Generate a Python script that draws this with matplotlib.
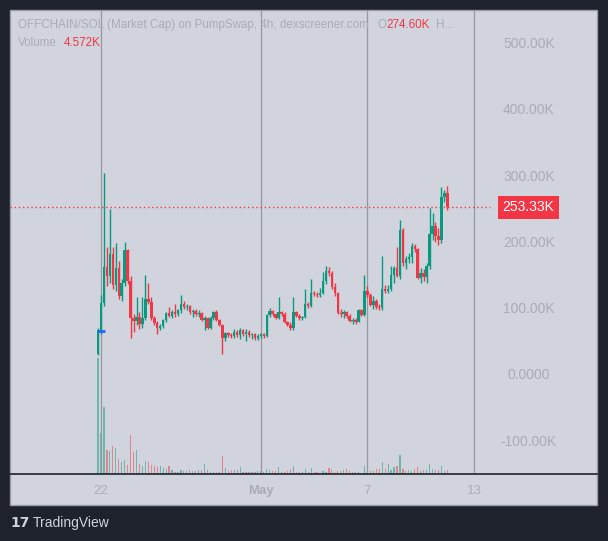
import matplotlib
matplotlib.use("Agg")
import matplotlib.pyplot as plt
from matplotlib.patches import Rectangle
import matplotlib.transforms as mtransforms

# ---------------- data (values in K) ----------------
opens = [33, 68, 109, 163, 150, 183, 136, 162, 120, 139, 189, 143, 86, 82, 88, 78, 86, 116, 111, 86,
         79, 71, 74, 83, 94, 90, 96, 92, 98, 107, 103, 105, 95, 97, 92, 94, 84, 86, 72, 86,
         95, 83, 76, 57, 64, 61, 59, 66, 61, 68, 63, 66, 61, 63, 56, 59, 62, 60, 91, 97,
         92, 87, 95, 93, 80, 76, 71, 95, 90, 86, 88, 107, 105, 125, 123, 121, 125, 143, 157, 154,
         133, 124, 94, 92, 95, 90, 82, 84, 81, 98, 91, 128, 121, 106, 112, 103, 101, 131, 127, 131,
         151, 162, 150, 219, 169, 176, 178, 195, 190, 147, 155, 148, 165, 214, 225, 210, 205, 269, 274.6]
highs = [72, 122, 305, 193, 251, 193, 200, 172, 145, 201, 190, 150, 92, 118, 95, 118, 151, 140, 118, 90,
         82, 78, 85, 96, 103, 98, 107, 100, 121, 112, 108, 106, 100, 100, 98, 96, 90, 88, 90, 97,
         98, 85, 78, 66, 66, 64, 70, 68, 72, 70, 70, 68, 64, 64, 62, 64, 64, 93, 101, 99,
         94, 118, 97, 95, 82, 80, 118, 97, 92, 90, 130, 110, 146, 128, 126, 132, 156, 165, 163, 158,
         140, 126, 100, 98, 97, 92, 86, 86, 100, 100, 151, 135, 124, 120, 116, 108, 180, 137, 136, 165,
         165, 194, 234, 222, 180, 184, 200, 198, 192, 162, 160, 170, 252, 245, 232, 222, 284, 280, 286]
lows = [30, 62, 105, 135, 140, 130, 128, 115, 112, 135, 138, 57, 65, 76, 70, 72, 84, 108, 84, 76,
        63, 68, 72, 80, 88, 86, 88, 89, 94, 100, 98, 92, 88, 90, 88, 82, 68, 70, 70, 84,
        82, 74, 33, 52, 58, 56, 56, 58, 55, 60, 52, 58, 55, 54, 53, 56, 57, 58, 88, 90,
        85, 85, 90, 79, 74, 68, 69, 88, 84, 83, 86, 102, 103, 120, 118, 119, 123, 138, 150, 130,
        120, 92, 88, 86, 86, 80, 78, 78, 80, 89, 89, 118, 104, 100, 100, 98, 99, 124, 124, 128,
        140, 148, 146, 165, 160, 170, 170, 186, 145, 140, 142, 140, 160, 205, 201, 196, 200, 262, 250]
closes = [68, 109, 163, 150, 183, 136, 162, 120, 139, 189, 143, 86, 82, 88, 78, 86, 116, 111, 86, 79,
          71, 74, 83, 94, 90, 96, 92, 98, 107, 103, 105, 95, 97, 92, 94, 84, 86, 72, 86, 95,
          83, 76, 57, 64, 61, 59, 66, 61, 68, 63, 66, 61, 63, 56, 59, 62, 60, 91, 97, 92,
          87, 95, 93, 80, 76, 71, 95, 90, 86, 88, 107, 105, 125, 123, 121, 125, 143, 157, 154, 133,
          124, 94, 92, 95, 90, 82, 84, 81, 98, 91, 128, 121, 106, 112, 103, 101, 131, 127, 131, 151,
          162, 150, 219, 169, 176, 178, 195, 190, 147, 155, 148, 165, 214, 225, 210, 205, 269, 274.6, 253.33]
volumes = [132.6, 46.9, 76.6, 27.4, 26.3, 32.0, 29.7, 17.1, 13.7, 16.0,
           10.3, 44.6, 25.1, 27.4, 11.4, 9.1, 14.9, 13.7, 10.3, 9.1,
           8.0, 9.1, 6.9, 5.7, 9.1, 4.6, 2.3, 2.3, 4.6, 3.4,
           3.4, 4.6, 3.4, 3.4, 4.6, 4.6, 11.4, 4.6, 2.3, 2.3,
           2.3, 2.3, 20.6, 6.9, 3.4, 4.6, 4.6, 4.6, 8.0, 2.3,
           2.3, 2.3, 2.3, 2.3, 3.4, 3.4, 2.3, 5.7, 4.6, 3.4,
           3.4, 8.0, 2.3, 2.3, 3.4, 5.7, 9.1, 2.3, 2.3, 2.3,
           5.7, 2.3, 6.9, 2.3, 2.3, 1.1, 3.4, 2.3, 6.9, 4.6,
           2.3, 3.4, 3.4, 4.6, 5.7, 3.4, 2.3, 2.3, 2.3, 1.1,
           9.1, 4.6, 3.4, 3.4, 5.7, 5.7, 13.7, 5.7, 11.4, 4.6,
           8.0, 9.1, 21.7, 5.7, 3.4, 4.6, 3.4, 5.7, 8.0, 3.4,
           4.6, 4.6, 11.4, 5.7, 4.6, 4.6, 9.1, 3.4, 4.572]
# candle times in days from Apr 22 00:00 (4h candles starting Apr 21 20:00)
first_candle_day = -1 / 6
candle_step_day = 1 / 6
times = [first_candle_day + i * candle_step_day for i in range(len(closes))]

x_tick_days = [0, 9, 15, 21]
x_tick_labels = ["22", "May", "7", "13"]
price_ticks = [500, 400, 300, 200, 100, 0, -100]
price_labels = ["500.00K", "400.00K", "300.00K", "200.00K", "100.00K", "0.0000", "-100.00K"]
last_price = 253.33
marker_value = 67

# ---------------- style ----------------
UP = "#089981"
DOWN = "#f23645"
BG = "#1e222d"
PANEL = "#d1d4dc"
GRID = "#9598a1"
LABEL = "#a9acb5"
FONT = "Liberation Sans"

W, H = 608, 541
fig = plt.figure(figsize=(W / 100, H / 100), dpi=100, facecolor=BG)

def fx(px):
    return px / W

def fy(py):
    return 1 - py / H

# panel background
panel = Rectangle((fx(10), fy(505)), fx(597) - fx(10), fy(10) - fy(505),
                  transform=fig.transFigure, facecolor=PANEL, edgecolor="#9a9da6",
                  linewidth=1, zorder=0)
fig.patches.append(panel)

rect = [fx(10), fy(474), fx(597) - fx(10), fy(10) - fy(474)]
axv = fig.add_axes(rect, facecolor="none", zorder=1)
ax = fig.add_axes(rect, facecolor="none", zorder=2, sharex=axv)

px_per_day = 17.76
x0_px = 101
xlim = ((10 - x0_px) / px_per_day, (597 - x0_px) / px_per_day)
ax.set_xlim(*xlim)
ax.set_ylim(-148.8, 551.3)
axv.set_ylim(0, 464 * 1.143)
axv.axis("off")

colors = [UP if c >= o else DOWN for o, c in zip(opens, closes)]

# volume
axv.bar(times, volumes, width=1.2 / px_per_day, color=colors, alpha=0.5, linewidth=0)

# candles
ax.vlines(times, lows, highs, colors=colors, linewidth=1.0, zorder=3)
bottoms = [min(o, c) for o, c in zip(opens, closes)]
heights = [max(abs(c - o), 1.8) for o, c in zip(opens, closes)]
ax.bar(times, heights, bottom=bottoms, width=2.5 / px_per_day, color=colors, linewidth=0, zorder=4)

# marker
ax.hlines(marker_value, times[0] + 0.02, times[2] + 0.05, colors="#2962ff", linewidth=2, zorder=5)

# grid / spines
for s in ["top", "right", "left"]:
    ax.spines[s].set_visible(False)
ax.spines["bottom"].set_color("#1e222d")
ax.spines["bottom"].set_linewidth(1.2)
ax.set_xticks(x_tick_days)
ax.set_xticklabels(x_tick_labels)
ax.tick_params(axis="x", length=0, pad=8, labelsize=9.5, labelcolor=LABEL)
for lbl in ax.get_xticklabels():
    lbl.set_fontfamily(FONT)
    if lbl.get_text() == "May":
        lbl.set_fontweight("bold")
ax.set_yticks([])
ax.grid(axis="x", color=GRID, linewidth=0.9)

# price labels
trans = mtransforms.blended_transform_factory(ax.transAxes, ax.transData)
for v, lab in zip(price_ticks, price_labels):
    ax.text(0.884, v, lab, transform=trans, ha="center", va="center",
            fontsize=10, color=LABEL, family=FONT)

# last price line + box
ax.axhline(last_price, xmin=0, xmax=(490 - 10) / 587, color=DOWN, linewidth=1,
           linestyle=(0, (1, 2)), zorder=2)
ax.text(0.8835, last_price, f"{last_price:.2f}K", transform=trans, ha="center", va="center",
        fontsize=10, color="white", family=FONT, zorder=10,
        bbox=dict(boxstyle="square,pad=0.35", fc=DOWN, ec="none"))

# header texts, chained horizontally
fig.canvas.draw()
renderer = fig.canvas.get_renderer()

def chain(segments, x_px, y_px, size):
    x = x_px
    for txt, col, gap in segments:
        t = fig.text(fx(x), fy(y_px), txt, color=col, fontsize=size, family=FONT,
                     ha="left", va="center")
        bb = t.get_window_extent(renderer)
        x = x + bb.width + gap

chain([("OFFCHAIN/SOL (Market Cap) on PumpSwap, 4h, dexscreener.com", LABEL, 9),
       ("O", LABEL, 0), ("274.60K", DOWN, 6), ("H...", LABEL, 0)], 18, 25, 8.4)
chain([("Volume", LABEL, 7), ("4.572K", DOWN, 0)], 18, 43, 8.4)

# TradingView logo
fig.text(fx(10), fy(523), "17", color="#d1d4dc", fontsize=10, fontweight="bold",
         family="DejaVu Sans", ha="left", va="center")
fig.text(fx(33), fy(523), "TradingView", color="#d1d4dc", fontsize=10, family=FONT,
         ha="left", va="center")

fig.savefig("out.png", dpi=100, facecolor=BG)
